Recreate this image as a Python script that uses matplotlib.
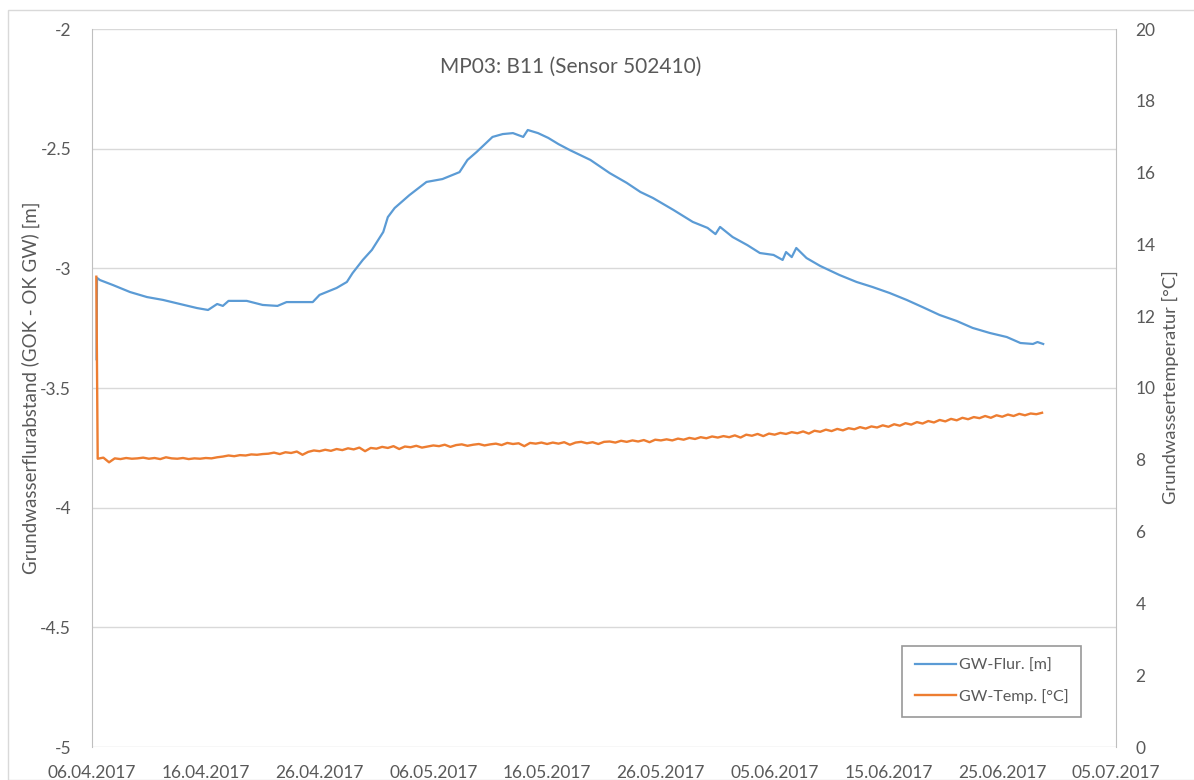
import matplotlib
matplotlib.use("Agg")
import matplotlib.pyplot as plt
import matplotlib.dates as mdates
from matplotlib.patches import Rectangle
import numpy as np
import pandas as pd

plt.rcParams['font.family'] = ['Lato', 'DejaVu Sans']

start = pd.Timestamp("2017-04-06")

# GW-Flur. [m]: days since 06.04.2017 and level
flur_days = [0.40, 0.44, 0.70, 1.85, 3.34, 4.83, 6.24, 7.73, 9.23, 10.2, 11.0, 11.5, 12.0,
             13.6, 15.0, 16.3, 17.1, 19.4, 20.0, 21.5, 22.4, 22.9, 23.8, 24.6, 25.6, 26.0,
             26.6, 27.9, 29.4, 30.8, 32.3, 33.0, 33.8, 35.2, 36.1, 37.0, 37.9, 38.3, 39.2,
             40.1, 41.0, 42.0, 43.8, 45.5, 47.0, 48.2, 49.3, 51.1, 52.8, 54.1, 54.8, 55.2,
             56.3, 57.6, 58.7, 59.9, 60.7, 61.0, 61.5, 61.9, 62.8, 64.0, 65.7, 67.2, 68.6,
             70.1, 71.6, 73.0, 74.5, 76.0, 77.4, 78.9, 80.4, 81.6, 82.7, 83.1, 83.6]
flur = [-3.38, -3.040, -3.049, -3.070, -3.099, -3.120, -3.132, -3.149, -3.166, -3.174, -3.149,
        -3.157, -3.136, -3.136, -3.153, -3.157, -3.141, -3.141, -3.111, -3.082, -3.057, -3.020,
        -2.965, -2.923, -2.848, -2.786, -2.748, -2.694, -2.639, -2.627, -2.598, -2.547, -2.514,
        -2.451, -2.439, -2.435, -2.451, -2.422, -2.435, -2.455, -2.481, -2.506, -2.547, -2.602,
        -2.643, -2.681, -2.706, -2.756, -2.806, -2.831, -2.857, -2.827, -2.869, -2.903, -2.936,
        -2.944, -2.965, -2.932, -2.953, -2.915, -2.957, -2.990, -3.028, -3.057, -3.078, -3.103,
        -3.132, -3.162, -3.195, -3.220, -3.249, -3.270, -3.287, -3.312, -3.316, -3.308, -3.316]

# GW-Temp. [°C]: first reading, then half-day readings from day 0.5
temp_first_day = 0.38
temp_first = 13.1
temp = [8.03, 8.06, 7.93, 8.04, 8.02, 8.05, 8.03, 8.04, 8.06, 8.03,
        8.05, 8.02, 8.07, 8.04, 8.03, 8.05, 8.02, 8.04, 8.03, 8.05,
        8.04, 8.07, 8.09, 8.12, 8.10, 8.13, 8.12, 8.15, 8.14, 8.16,
        8.17, 8.20, 8.16, 8.21, 8.19, 8.23, 8.14, 8.22, 8.26, 8.24,
        8.28, 8.25, 8.30, 8.27, 8.32, 8.29, 8.34, 8.24, 8.33, 8.31,
        8.36, 8.33, 8.38, 8.30, 8.37, 8.35, 8.39, 8.34, 8.37, 8.40,
        8.38, 8.42, 8.36, 8.41, 8.43, 8.39, 8.42, 8.44, 8.40, 8.43,
        8.45, 8.41, 8.47, 8.44, 8.46, 8.38, 8.47, 8.45, 8.48, 8.44,
        8.48, 8.45, 8.49, 8.42, 8.48, 8.50, 8.46, 8.49, 8.44, 8.50,
        8.51, 8.48, 8.53, 8.50, 8.54, 8.51, 8.55, 8.49, 8.56, 8.54,
        8.57, 8.54, 8.59, 8.56, 8.61, 8.58, 8.63, 8.60, 8.65, 8.62,
        8.66, 8.63, 8.68, 8.62, 8.70, 8.67, 8.72, 8.66, 8.73, 8.70,
        8.75, 8.72, 8.77, 8.74, 8.79, 8.73, 8.81, 8.78, 8.84, 8.80,
        8.86, 8.82, 8.88, 8.85, 8.91, 8.87, 8.93, 8.90, 8.96, 8.92,
        8.99, 8.95, 9.02, 8.98, 9.05, 9.01, 9.08, 9.04, 9.11, 9.07,
        9.14, 9.10, 9.17, 9.13, 9.19, 9.16, 9.22, 9.17, 9.24, 9.20,
        9.26, 9.22, 9.28, 9.24, 9.29, 9.27, 9.31]

flur_t = start + pd.to_timedelta(flur_days, unit="D")
temp_days = np.concatenate([[temp_first_day], 0.5 + 0.5 * np.arange(len(temp))])
temp_t = start + pd.to_timedelta(temp_days, unit="D")
temp_v = [temp_first] + temp

blue = "#5B9BD5"
orange = "#ED7D31"
txt = "#595959"

fig = plt.figure(figsize=(11.94, 7.80), dpi=100)
fig.patches.append(Rectangle((8 / 1194, 0), 1.2, 1 - 10 / 780, transform=fig.transFigure,
                             fill=False, edgecolor="#d9d9d9", linewidth=1))
ax = fig.add_axes([92 / 1194, 1 - 747 / 780, (1116 - 92) / 1194, (747 - 29) / 780])
ax2 = ax.twinx()

l1, = ax.plot(flur_t, flur, color=blue, lw=1.6, label="GW-Flur. [m]")
l2, = ax2.plot(temp_t, temp_v, color=orange, lw=1.7, label="GW-Temp. [°C]")

ax.set_ylim(-5, -2)
ax.set_yticks(np.arange(-5, -1.99, 0.5))
ax.set_yticklabels(["-5", "-4.5", "-4", "-3.5", "-3", "-2.5", "-2"])
ax2.set_ylim(0, 20)
ax2.set_yticks(np.arange(0, 21, 2))
ax.set_xlim(pd.Timestamp("2017-04-06"), pd.Timestamp("2017-07-05"))
ax.set_xticks(pd.date_range("2017-04-06", "2017-07-05", freq="10D"))
ax.xaxis.set_major_formatter(mdates.DateFormatter("%d.%m.%Y"))

ax.grid(axis="y", color="#d9d9d9", lw=1)
ax.set_axisbelow(True)
for a in (ax, ax2):
    for s in a.spines.values():
        s.set_visible(False)
    a.tick_params(length=0, colors=txt, labelsize=12.5)
ax.spines["left"].set_visible(True)
ax.spines["left"].set_color("#bfbfbf")
ax2.spines["right"].set_visible(True)
ax2.spines["right"].set_color("#bfbfbf")
ax.tick_params(axis="x", pad=13)
ax.tick_params(axis="y", pad=15)
ax2.tick_params(axis="y", pad=14)

fig.text(31 / 1194, 1 - 388 / 780, "Grundwasserflurabstand (GOK - OK GW) [m]", color=txt,
         fontsize=13.5, rotation=90, ha="center", va="center")
fig.text(1170 / 1194, 1 - 387 / 780, "Grundwassertemperatur [°C]", color=txt,
         fontsize=13.2, rotation=90, ha="center", va="center")

fig.text(571 / 1194, 1 - 67 / 780, "MP03: B11 (Sensor 502410)", color=txt, fontsize=15,
         ha="center", va="center")

leg = ax2.legend(handles=[l1, l2], loc="upper left",
                 bbox_to_anchor=(902 / 1194, 1 - 646 / 780), bbox_transform=fig.transFigure,
                 frameon=True, fancybox=False, shadow=False, fontsize=11.5,
                 handlelength=2.6, labelspacing=1.0, borderpad=0.8, handletextpad=0.15,
                 borderaxespad=0)
leg.get_frame().set_edgecolor("#7f7f7f")
leg.get_frame().set_linewidth(1.2)
for t in leg.get_texts():
    t.set_color(txt)

fig.savefig("out.png", dpi=100)
